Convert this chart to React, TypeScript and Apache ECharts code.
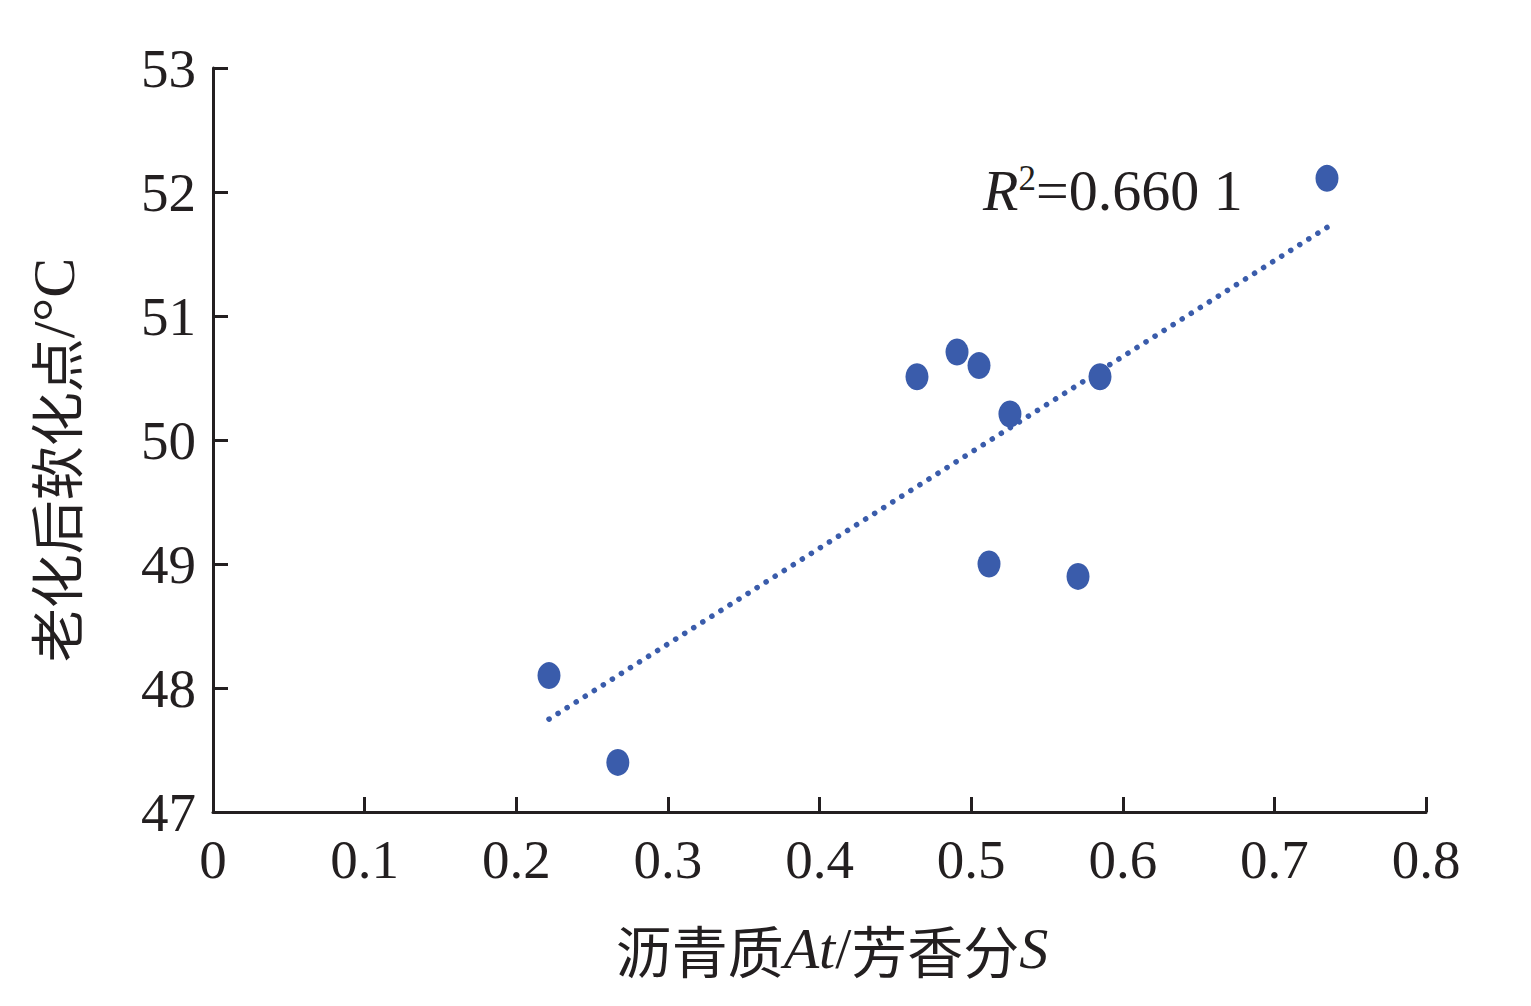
import React, { useEffect, useRef } from "react";
import * as echarts from "echarts";

const ratioAtS = [0.2216, 0.267, 0.4643, 0.4907, 0.5052, 0.5256, 0.5118, 0.5705, 0.585, 0.7347];
const softeningPoint = [48.1, 47.4, 50.51, 50.71, 50.6, 50.21, 49.0, 48.9, 50.51, 52.11];
const xTicks = [0, 0.8, 0.1];
const yTicks = [47, 53, 1];
const r2Text = "0.660 1";

const SERIF = "'Liberation Serif', 'Times New Roman', serif";
const CJK = "'Noto Sans CJK SC', sans-serif";
const INK = "#231f20";
const BLUE = "#3a5cab";

function linearFit(xs: number[], ys: number[]) {
  const n = xs.length;
  const mx = xs.reduce((a, b) => a + b, 0) / n;
  const my = ys.reduce((a, b) => a + b, 0) / n;
  let sxy = 0;
  let sxx = 0;
  for (let i = 0; i < n; i++) {
    sxy += (xs[i] - mx) * (ys[i] - my);
    sxx += (xs[i] - mx) * (xs[i] - mx);
  }
  const slope = sxy / sxx;
  return { slope, intercept: my - slope * mx };
}

export default function App() {
  const ref = useRef<HTMLDivElement>(null);
  useEffect(() => {
    if (!ref.current) return;
    const chart = echarts.init(ref.current, null, { renderer: "svg" });
    const fit = linearFit(ratioAtS, softeningPoint);
    const xmin = Math.min(...ratioAtS);
    const xmax = Math.max(...ratioAtS);
    const trend = [
      [xmin, fit.intercept + fit.slope * xmin],
      [xmax, fit.intercept + fit.slope * xmax],
    ];
    const axisCommon = {
      axisLine: { show: true, lineStyle: { color: INK, width: 3 } },
      axisTick: { show: true, inside: true, length: 15, lineStyle: { color: INK, width: 3 } },
      splitLine: { show: false },
    };
    chart.setOption({
      animation: false,
      backgroundColor: "#ffffff",
      grid: { left: 213, right: 105, top: 68, bottom: 194 },
      xAxis: {
        type: "value",
        min: xTicks[0],
        max: xTicks[1],
        interval: xTicks[2],
        ...axisCommon,
        axisLabel: { fontFamily: SERIF, fontSize: 55, color: INK, margin: 20 },
      },
      yAxis: {
        type: "value",
        min: yTicks[0],
        max: yTicks[1],
        interval: yTicks[2],
        ...axisCommon,
        axisLabel: { fontFamily: SERIF, fontSize: 55, color: INK, margin: 17 },
      },
      graphic: [
        {
          type: "text",
          x: 54,
          y: 460,
          rotation: Math.PI / 2,
          style: {
            text: "{c|老化后软化点}{l|/°C}",
            align: "center",
            verticalAlign: "middle",
            fill: INK,
            rich: {
              c: { fontFamily: CJK, fontSize: 54, fill: INK },
              l: { fontFamily: SERIF, fontSize: 60, fill: INK },
            },
          },
        },
        {
          type: "text",
          x: 832,
          y: 948,
          style: {
            text: "{c|沥青质}{i|At}{l|/}{c|芳香分}{i|S}",
            align: "center",
            verticalAlign: "middle",
            fill: INK,
            rich: {
              c: { fontFamily: CJK, fontSize: 56, fill: INK },
              i: { fontFamily: SERIF, fontSize: 58, fontStyle: "italic", fill: INK },
              l: { fontFamily: SERIF, fontSize: 58, fill: INK },
            },
          },
        },
        {
          type: "text",
          x: 983,
          y: 190,
          style: {
            text: "{i|R}{s|2}{n|=" + r2Text + "}",
            align: "left",
            verticalAlign: "middle",
            fill: INK,
            rich: {
              i: { fontFamily: SERIF, fontSize: 58, fontStyle: "italic", fill: INK },
              s: { fontFamily: SERIF, fontSize: 35, fill: INK, verticalAlign: "top" },
              n: { fontFamily: SERIF, fontSize: 58, fill: INK },
            },
          },
        },
      ],
      series: [
        {
          type: "line",
          data: trend,
          showSymbol: false,
          symbol: "none",
          lineStyle: { color: BLUE, width: 5.5, type: [0.1, 10.6], cap: "round" },
          z: 1,
          silent: true,
        },
        {
          type: "scatter",
          data: ratioAtS.map((x, i) => [x, softeningPoint[i]]),
          symbol: "circle",
          symbolSize: [23, 27],
          itemStyle: { color: BLUE, opacity: 1 },
          z: 2,
        },
      ],
    });
    return () => chart.dispose();
  }, []);
  return (
    <div
      ref={ref}
      style={{ position: "absolute", left: 0, top: 0, width: 1531, height: 1006, background: "#fff" }}
    />
  );
}
